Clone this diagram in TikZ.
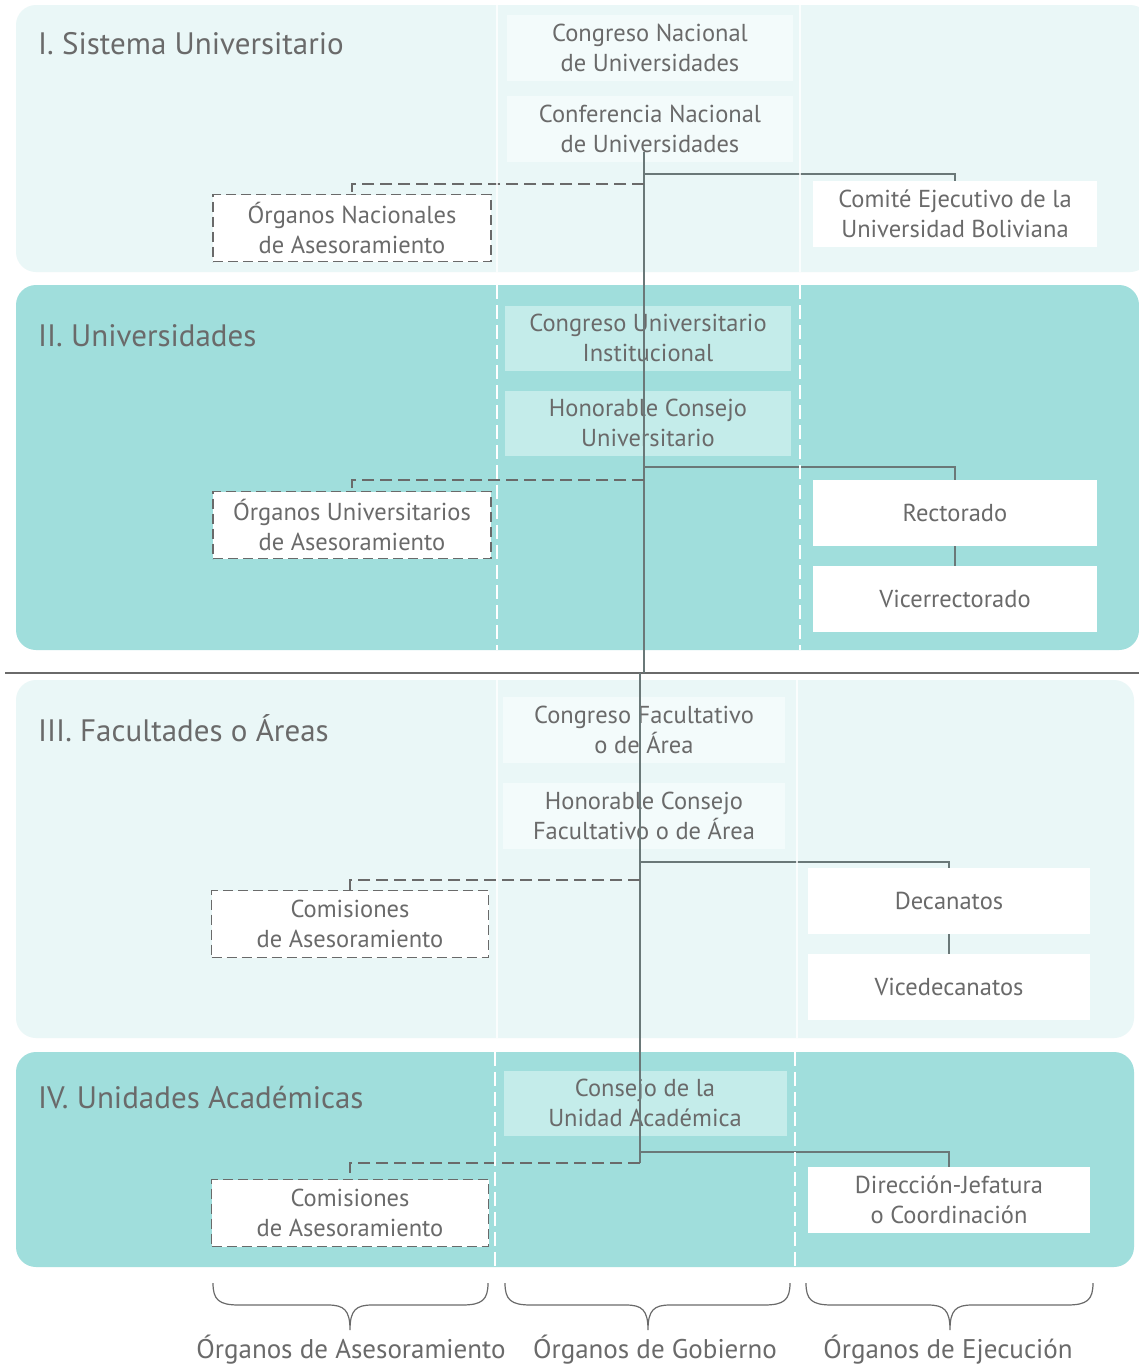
\documentclass[tikz,border=0pt]{standalone}
\usepackage{fontspec}
\setmainfont{PT Sans}
\definecolor{bandlight}{HTML}{EAF7F7}
\definecolor{banddark}{HTML}{A0DEDC}
\definecolor{boxlight}{HTML}{F3FBFB}
\definecolor{boxdark}{HTML}{C4ECEA}
\definecolor{txt}{HTML}{6A6A6A}
\definecolor{conn}{HTML}{6A7878}
\begin{document}
\begin{tikzpicture}[x=1pt,y=-1pt,
  every node/.style={font=\fontsize{24.5}{29.5}\selectfont, text=txt, align=center, inner sep=0pt},
  bandL/.style={fill=bandlight, rounded corners=20pt},
  bandD/.style={fill=banddark, rounded corners=20pt},
  govL/.style={fill=boxlight, minimum width=286pt, minimum height=66pt},
  govD/.style={fill=boxdark, minimum width=286pt, minimum height=65pt},
  exbox/.style={fill=white, minimum width=284pt, minimum height=66pt},
  advbox/.style={fill=white, draw=txt, line width=1.2pt, dash pattern=on 10pt off 5pt, minimum width=278pt, minimum height=67pt},
  title/.style={font=\fontsize{31}{36}\selectfont, anchor=west},
  solidc/.style={draw=conn, line width=1.4pt},
  dashc/.style={draw=txt, line width=1.4pt, dash pattern=on 12pt off 6pt},
  divS/.style={draw=white, line width=1.8pt, opacity=0.8},
  divD/.style={draw=white, line width=2pt, dash pattern=on 14pt off 6pt},
  braceline/.style={draw=txt, line width=1.2pt},
  foot/.style={font=\fontsize{27}{30}\selectfont}
]
\useasboundingbox (0,0) rectangle (1139,1365);
\fill[white] (0,0) rectangle (1139,1365);

% bands
\path[bandL] (16,5) rectangle (1150,272);
\path[bandD] (16,285) rectangle (1139,650);
\path[bandL] (16,680) rectangle (1134,1038);
\path[bandD] (16,1052) rectangle (1134,1267);
\draw[draw=txt, line width=1.2pt] (5,673) -- (1139,673);

% titles
\node[title] (t1) at (38,44) {I. Sistema Universitario};
\node[title] (t2) at (38,336) {II. Universidades};
\node[title] (t3) at (38,728) {III. Facultades o Áreas};
\node[title] (t4) at (38,1098) {IV. Unidades Académicas};

% band I nodes
\node[govL] (cn) at (650,48) {Congreso Nacional\\de Universidades};
\node[govL] (conf) at (650,129) {Conferencia Nacional\\de Universidades};
\node[advbox] (ona) at (352,228) {Órganos Nacionales\\de Asesoramiento};
\node[exbox] (ceub) at (955,214) {Comité Ejecutivo de la\\Universidad Boliviana};

% band II nodes
\node[govD] (cui) at (648,338) {Congreso Universitario\\Institucional};
\node[govD] (hcu) at (648,423) {Honorable Consejo\\Universitario};
\node[advbox] (oua) at (352,525) {Órganos Universitarios\\de Asesoramiento};
\node[exbox] (rect) at (955,513) {Rectorado};
\node[exbox] (vice) at (955,599) {Vicerrectorado};

% band III nodes
\node[govL, minimum width=282pt] (cfa) at (644,730) {Congreso Facultativo\\o de Área};
\node[govL, minimum width=282pt] (hcf) at (644,816) {Honorable Consejo\\Facultativo o de Área};
\node[advbox, minimum width=277pt] (com3) at (350,924) {Comisiones\\de Asesoramiento};
\node[exbox, minimum width=282pt] (dec) at (949,901) {Decanatos};
\node[exbox, minimum width=282pt] (vdec) at (949,987) {Vicedecanatos};

% band IV nodes
\node[govD, minimum width=283pt] (cua) at (645,1103) {Consejo de la\\Unidad Académica};
\node[advbox, minimum width=277pt] (com4) at (350,1213) {Comisiones\\de Asesoramiento};
\node[exbox, minimum width=282pt] (dir) at (949,1200) {Dirección-Jefatura\\o Coordinación};

% trunk
\coordinate (tA) at (644,152);
\coordinate (tB) at (644,673);
\coordinate (tC) at (640,673);
\coordinate (tD) at (640,1163);
\draw[solidc] (tA) -- (tB);
\draw[solidc] (tC) -- (tD);

% band I connectors
\draw[solidc] (644,174) -| (ceub.north);
\draw[dashc] (644,184) -| (ona.north);
% band II connectors
\draw[solidc] (644,467) -| (rect.north);
\draw[dashc] (644,480) -| (oua.north);
\draw[solidc] (rect.south) -- (vice.north);
% band III connectors
\draw[solidc] (640,862) -| (dec.north);
\draw[dashc] (640,880) -| (com3.north);
\draw[solidc] (dec.south) -- (vdec.north);
% band IV connectors
\draw[solidc] (640,1152) -| (dir.north);
\draw[dashc] (640,1163) -| (com4.north);

% column dividers
\draw[divS] (497,5) -- (497,272);
\draw[divS] (800,5) -- (800,272);
\draw[divD] (497,285) -- (497,650);
\draw[divD] (800,285) -- (800,650);
\draw[divS] (497,680) -- (497,1038);
\draw[divS] (797,680) -- (797,1038);
\draw[divD] (495,1052) -- (495,1267);
\draw[divD] (795,1052) -- (795,1267);

% braces
\foreach \a/\c/\b in {213/350/488, 505/648/790, 806/950/1093}{
  \draw[braceline] (\a,1283) .. controls (\a,1300) and (\a+6,1305) .. (\a+26,1305)
    -- (\c-22,1305) .. controls (\c-6,1305) and (\c,1310) .. (\c,1330)
    .. controls (\c,1310) and (\c+6,1305) .. (\c+22,1305)
    -- (\b-26,1305) .. controls (\b-6,1305) and (\b,1300) .. (\b,1283);
}
\node[foot] (f1) at (351,1350) {Órganos de Asesoramiento};
\node[foot] (f2) at (655,1350) {Órganos de Gobierno};
\node[foot] (f3) at (948,1350) {Órganos de Ejecución};
\end{tikzpicture}
\end{document}
